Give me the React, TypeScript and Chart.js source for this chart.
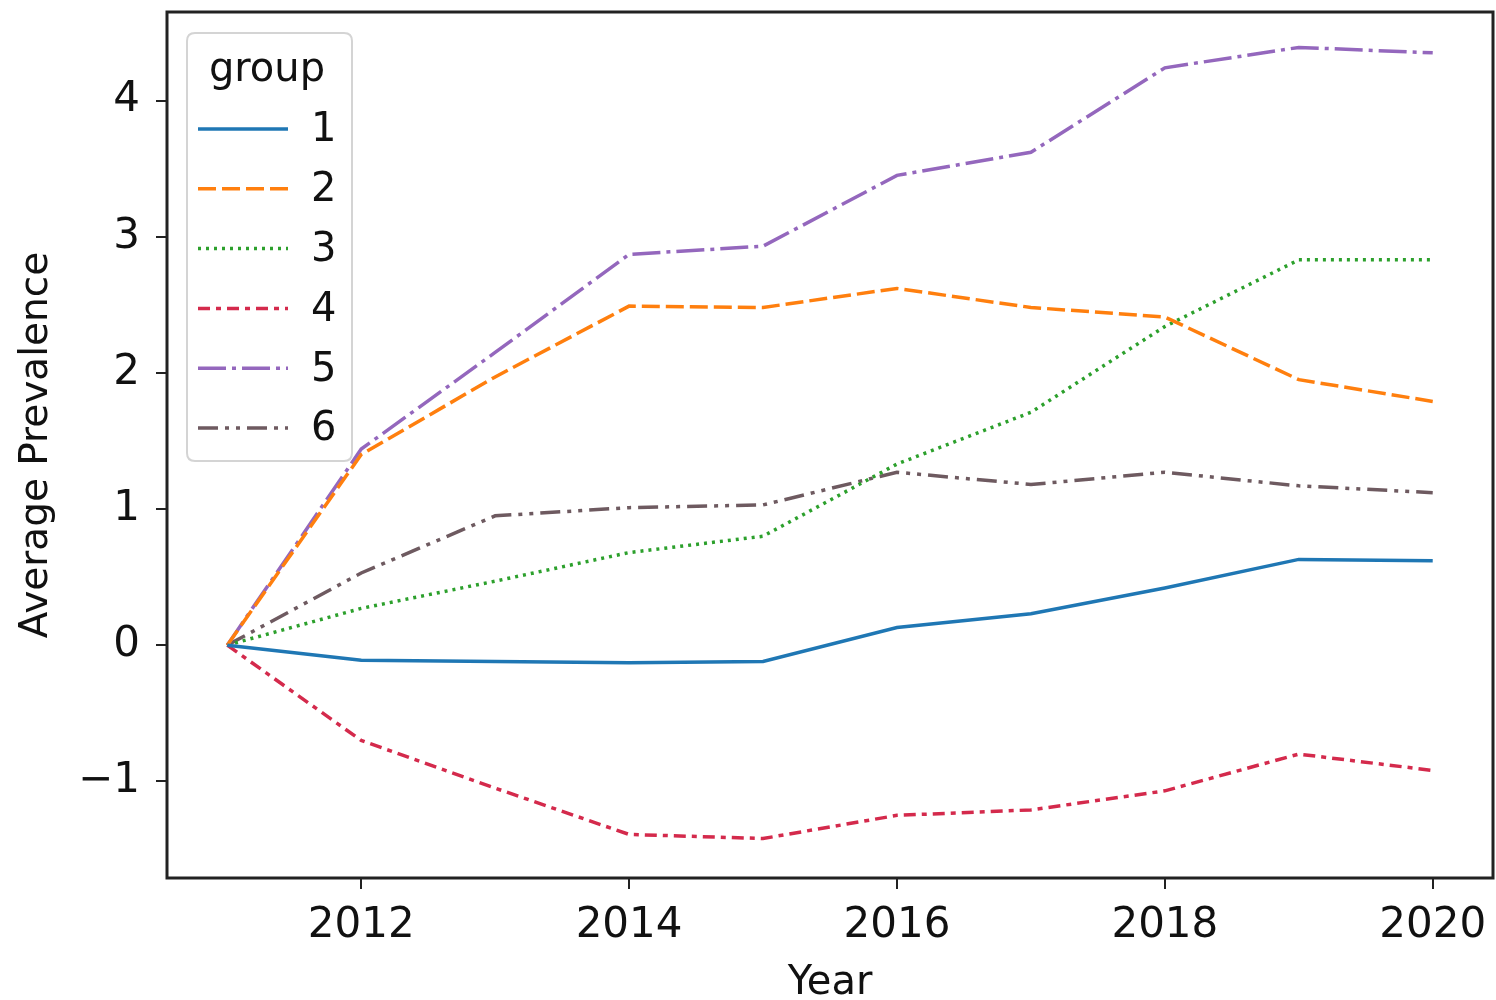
import { useEffect, useRef } from "react";
import { Chart, registerables } from "chart.js";

Chart.register(...registerables);

// Survey years
const years = [2011, 2012, 2013, 2014, 2015, 2016, 2017, 2018, 2019, 2020];

// Average prevalence change per group, by year
const group1 = [0, -0.11, -0.12, -0.13, -0.12, 0.13, 0.23, 0.42, 0.63, 0.62];
const group2 = [0, 1.4, 1.97, 2.49, 2.48, 2.62, 2.48, 2.41, 1.95, 1.79];
const group3 = [0, 0.27, 0.47, 0.68, 0.8, 1.33, 1.71, 2.34, 2.83, 2.83];
const group4 = [0, -0.7, -1.05, -1.39, -1.42, -1.25, -1.21, -1.07, -0.8, -0.92];
const group5 = [0, 1.44, 2.15, 2.87, 2.93, 3.45, 3.62, 4.24, 4.39, 4.35];
const group6 = [0, 0.53, 0.95, 1.01, 1.03, 1.27, 1.18, 1.27, 1.17, 1.12];

const groupLabels = ["1", "2", "3", "4", "5", "6"];
const groupSeries = [group1, group2, group3, group4, group5, group6];
const groupColors = ["#1f77b4", "#ff7f0e", "#2ca02c", "#d42a4c", "#9467bd", "#6e5a60"];
const groupDashes = [[], [18, 6], [3, 5], [12, 6, 5, 6], [28, 6, 4, 6], [20, 7, 4, 7, 4, 7]];

const xTicks = [2012, 2014, 2016, 2018, 2020];
const yTicks = [-1, 0, 1, 2, 3, 4];

const FONT = "'DejaVu Sans', sans-serif";
const AXIS_COLOR = "#222222";

// Full box around the plotting area
const framePlugin = {
  id: "frame",
  afterDraw(chart: any) {
    const { ctx, chartArea } = chart;
    ctx.save();
    ctx.strokeStyle = AXIS_COLOR;
    ctx.lineWidth = 3;
    ctx.strokeRect(chartArea.left, chartArea.top, chartArea.right - chartArea.left, chartArea.bottom - chartArea.top);
    ctx.restore();
  },
};

// Legend box with a title, drawn over the lines in the upper-left corner
const groupLegendPlugin = {
  id: "groupLegend",
  afterDatasetsDraw(chart: any) {
    const { ctx, chartArea } = chart;
    const x0 = chartArea.left + 20;
    const y0 = chartArea.top + 21;
    const w = 165;
    const h = 428;
    const r = 8;
    ctx.save();
    ctx.beginPath();
    ctx.moveTo(x0 + r, y0);
    ctx.lineTo(x0 + w - r, y0);
    ctx.quadraticCurveTo(x0 + w, y0, x0 + w, y0 + r);
    ctx.lineTo(x0 + w, y0 + h - r);
    ctx.quadraticCurveTo(x0 + w, y0 + h, x0 + w - r, y0 + h);
    ctx.lineTo(x0 + r, y0 + h);
    ctx.quadraticCurveTo(x0, y0 + h, x0, y0 + h - r);
    ctx.lineTo(x0, y0 + r);
    ctx.quadraticCurveTo(x0, y0, x0 + r, y0);
    ctx.closePath();
    ctx.fillStyle = "rgba(255,255,255,0.85)";
    ctx.fill();
    ctx.strokeStyle = "#d4d4d4";
    ctx.lineWidth = 2;
    ctx.stroke();

    ctx.fillStyle = "#111";
    ctx.font = `40px ${FONT}`;
    ctx.textAlign = "center";
    ctx.textBaseline = "middle";
    ctx.fillText("group", x0 + 80, y0 + 38);

    chart.data.datasets.forEach((ds: any, i: number) => {
      const cy = y0 + 96 + i * 59.8;
      ctx.beginPath();
      ctx.setLineDash(ds.borderDash || []);
      ctx.strokeStyle = ds.borderColor;
      ctx.lineWidth = ds.borderWidth;
      ctx.moveTo(x0 + 11, cy);
      ctx.lineTo(x0 + 101, cy);
      ctx.stroke();
      ctx.setLineDash([]);
      ctx.fillStyle = "#111";
      ctx.textAlign = "left";
      ctx.fillText(ds.label, x0 + 124, cy + 2);
    });
    ctx.restore();
  },
};

function noOverhang(scale: any) {
  scale.paddingTop = 0;
  scale.paddingBottom = 0;
  scale.paddingLeft = 0;
  scale.paddingRight = 0;
}

export default function App() {
  const canvasRef = useRef<HTMLCanvasElement | null>(null);

  useEffect(() => {
    const canvas = canvasRef.current;
    if (!canvas) return;

    const datasets = groupSeries.map((values, i) => ({
      label: groupLabels[i],
      data: years.map((yr, j) => ({ x: yr, y: values[j] })),
      borderColor: groupColors[i],
      backgroundColor: groupColors[i],
      borderDash: groupDashes[i],
      borderWidth: 3.5,
      pointRadius: 0,
      tension: 0,
      fill: false,
    }));

    const chart = new Chart(canvas, {
      type: "line",
      data: { datasets },
      plugins: [framePlugin, groupLegendPlugin],
      options: {
        animation: false,
        responsive: false,
        maintainAspectRatio: false,
        layout: { padding: { top: 12, right: 3, left: 0, bottom: 0 } },
        plugins: {
          legend: { display: false },
          tooltip: { enabled: false },
          title: { display: false },
        },
        scales: {
          x: {
            type: "linear",
            min: 2010.55,
            max: 2020.45,
            afterBuildTicks(scale: any) {
              scale.ticks = xTicks.map((v) => ({ value: v }));
            },
            afterFit(scale: any) {
              scale.height = 122;
              noOverhang(scale);
            },
            ticks: {
              color: "#111",
              font: { family: FONT, size: 42 },
              padding: 12,
              maxRotation: 0,
              autoSkip: false,
              callback: (v: any) => String(v),
            },
            grid: {
              drawOnChartArea: false,
              drawTicks: true,
              tickLength: 11,
              color: AXIS_COLOR,
              lineWidth: 2,
            },
            border: { display: false },
            title: {
              display: true,
              text: "Year",
              color: "#111",
              font: { family: FONT, size: 40 },
              padding: { top: 0, bottom: -8 },
            },
          },
          y: {
            type: "linear",
            min: -1.71,
            max: 4.65,
            afterBuildTicks(scale: any) {
              scale.ticks = yTicks.map((v) => ({ value: v }));
            },
            afterFit(scale: any) {
              scale.width = 167;
              noOverhang(scale);
            },
            ticks: {
              color: "#111",
              font: { family: FONT, size: 42 },
              padding: 16,
              autoSkip: false,
              callback: (v: any) => (v < 0 ? "\u2212" + Math.abs(v) : String(v)),
            },
            grid: {
              drawOnChartArea: false,
              drawTicks: true,
              tickLength: 11,
              color: AXIS_COLOR,
              lineWidth: 2,
            },
            border: { display: false },
            title: {
              display: true,
              text: "Average Prevalence",
              color: "#111",
              font: { family: FONT, size: 39 },
              padding: { top: 13, bottom: 0 },
            },
          },
        },
      },
    } as any);

    return () => chart.destroy();
  }, []);

  return (
    <div style={{ position: "fixed", left: 0, top: 0, width: 1496, height: 1000, background: "#fff" }}>
      <canvas ref={canvasRef} width={1496} height={1000} style={{ display: "block", width: 1496, height: 1000 }} />
    </div>
  );
}
